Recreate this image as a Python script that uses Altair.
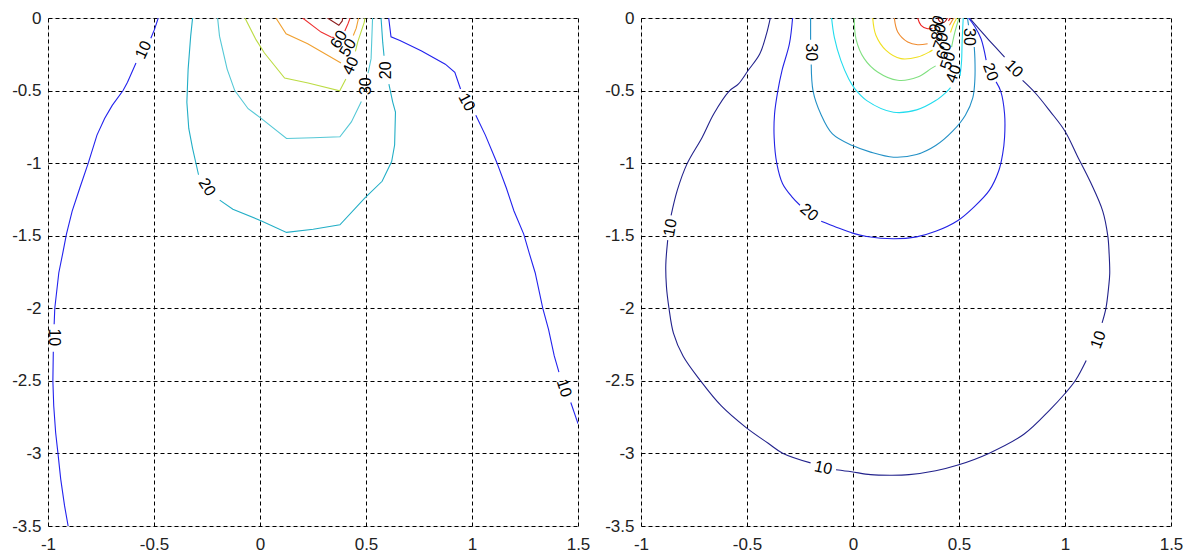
import altair as alt
import pandas as pd

# ---------------- LEFT PANEL contour segments (x, y) ----------------
L10 = [
    [(-0.48, 0), (-0.498, -0.080), (-0.515, -0.14)],
    [(-0.585, -0.31), (-0.625, -0.443), (-0.646, -0.5), (-0.697, -0.602), (-0.733, -0.693),
     (-0.769, -0.807), (-0.809, -0.995), (-0.850, -1.171), (-0.886, -1.330), (-0.913, -1.489),
     (-0.931, -1.625), (-0.949, -1.755), (-0.968, -2.0), (-0.971, -2.11)],
    [(-0.975, -2.30), (-0.977, -2.5), (-0.973, -2.672), (-0.964, -2.856), (-0.953, -3.0),
     (-0.940, -3.177), (-0.922, -3.360), (-0.905, -3.5)],
    [(0.607, 0), (0.618, -0.13), (0.66, -0.155), (0.76, -0.225), (0.874, -0.318),
     (0.919, -0.375), (0.946, -0.489)],
    [(1.018, -0.670), (1.063, -0.807), (1.117, -0.995), (1.162, -1.171), (1.198, -1.330),
     (1.244, -1.489), (1.271, -1.625), (1.298, -1.755), (1.334, -2.0), (1.361, -2.145),
     (1.388, -2.328), (1.41, -2.44)],
    [(1.466, -2.649), (1.5, -2.795)],
]
L20 = [
    [(0.571, 0), (0.579, -0.17), (0.585, -0.26)],
    [(0.608, -0.455), (0.626, -0.579), (0.639, -0.648), (0.635, -0.875), (0.621, -0.989),
     (0.576, -1.125), (0.495, -1.239), (0.377, -1.425), (0.251, -1.455), (0.125, -1.477),
     (0.007, -1.398), (-0.128, -1.318), (-0.19, -1.255)],
    [(-0.29, -1.08), (-0.318, -0.898), (-0.336, -0.761), (-0.345, -0.580), (-0.339, -0.352),
     (-0.327, -0.125), (-0.318, 0)],
]
L30 = [
    [(-0.200, 0), (-0.191, -0.125), (-0.155, -0.352), (-0.119, -0.5), (-0.056, -0.625),
     (0.007, -0.693), (0.125, -0.830), (0.251, -0.825), (0.377, -0.818), (0.431, -0.716),
     (0.478, -0.575)],
    [(0.510, -0.38), (0.524, -0.28), (0.531, 0)],
]
L40 = [
    [(-0.071, 0), (-0.019, -0.149), (0.021, -0.241), (0.116, -0.414), (0.227, -0.448),
     (0.376, -0.502), (0.405, -0.42)],
    [(0.45, -0.23), (0.461, -0.165), (0.492, -0.028), (0.495, 0)],
]
L50 = [
    [(0.075, 0), (0.123, -0.109), (0.225, -0.177), (0.382, -0.31)],
    [(0.44, -0.12), (0.454, -0.07), (0.465, 0)],
]
L60 = [
    [(0.201, 0), (0.288, -0.097), (0.335, -0.131), (0.35, -0.135)],
    [(0.40, -0.09), (0.415, -0.04), (0.425, 0)],
]
L70 = [
    [(0.318, 0), (0.372, -0.05), (0.388, -0.02), (0.39, 0)],
]
LEFT_LEVELS = [10, 20, 30, 40, 50, 60, 70]
LEFT_SEGS = [L10, L20, L30, L40, L50, L60, L70]
LEFT_COLORS = ["#2222ee", "#22aec6", "#55c8d6", "#bcdc44", "#f0a030", "#ee3030", "#8c1c1c"]

LEFT_LABELS = [
    ("10", -0.55, -0.22, 295), ("10", -0.97, -2.20, 90), ("10", 0.975, -0.58, 62),
    ("10", 1.434, -2.55, 72), ("20", 0.595, -0.36, 270), ("20", -0.25, -1.165, 58),
    ("30", 0.50, -0.47, 270), ("40", 0.428, -0.33, 295), ("50", 0.415, -0.205, 300),
    ("60", 0.372, -0.148, 300),
]

# ---------------- RIGHT PANEL contour segments (x, y) ----------------
R10 = [
    [(-0.39, 0), (-0.408, -0.11), (-0.44, -0.248), (-0.495, -0.362), (-0.54, -0.454),
     (-0.585, -0.505), (-0.657, -0.661), (-0.711, -0.821), (-0.783, -1.005), (-0.829, -1.188),
     (-0.858, -1.36)],
    [(-0.874, -1.53), (-0.883, -1.70), (-0.880, -1.85), (-0.868, -2.0), (-0.847, -2.171),
     (-0.801, -2.331), (-0.720, -2.498), (-0.621, -2.673), (-0.504, -2.822), (-0.400, -2.93),
     (-0.332, -2.998), (-0.20, -3.065)],
    [(-0.08, -3.112), (-0.007, -3.126), (0.083, -3.146), (0.18, -3.15), (0.264, -3.146),
     (0.390, -3.119), (0.495, -3.080), (0.643, -2.998), (0.806, -2.868), (0.931, -2.696),
     (1.0, -2.587), (1.049, -2.498), (1.10, -2.36)],
    [(1.175, -2.10), (1.193, -2.0), (1.206, -1.852), (1.211, -1.76), (1.208, -1.62),
     (1.202, -1.503), (1.178, -1.33), (1.12, -1.13), (1.058, -0.95), (1.0, -0.78),
     (0.931, -0.645), (0.859, -0.515), (0.80, -0.43)],
    [(0.715, -0.27), (0.64, -0.15), (0.585, -0.06), (0.55, 0)],
]
R20 = [
    [(-0.285, 0), (-0.30, -0.179), (-0.335, -0.362), (-0.355, -0.505), (-0.37, -0.661),
     (-0.372, -0.821), (-0.359, -1.005), (-0.332, -1.142), (-0.287, -1.234), (-0.25, -1.29)],
    [(-0.15, -1.40), (-0.079, -1.441), (-0.002, -1.482), (0.065, -1.505), (0.191, -1.521),
     (0.300, -1.508), (0.390, -1.47), (0.495, -1.395), (0.570, -1.303), (0.643, -1.188),
     (0.688, -1.051), (0.706, -0.936), (0.715, -0.821), (0.715, -0.661), (0.697, -0.505),
     (0.675, -0.44)],
    [(0.628, -0.29), (0.604, -0.143), (0.575, -0.06), (0.545, 0)],
]
R30 = [
    [(-0.200, 0), (-0.200, -0.15)],
    [(-0.197, -0.32), (-0.188, -0.505), (-0.152, -0.661), (-0.097, -0.798), (-0.002, -0.879),
     (0.083, -0.924), (0.191, -0.959), (0.300, -0.941), (0.390, -0.879), (0.470, -0.78),
     (0.530, -0.67), (0.565, -0.55), (0.575, -0.42), (0.575, -0.28), (0.572, -0.20)],
    [(0.545, -0.05), (0.54, 0)],
]
R40 = [
    [(-0.101, 0), (-0.088, -0.133), (-0.057, -0.294), (-0.02, -0.42), (0.01, -0.49),
     (0.065, -0.569), (0.191, -0.649), (0.300, -0.633), (0.390, -0.569), (0.444, -0.505),
     (0.46, -0.48)],
    [(0.505, -0.40), (0.512, -0.30), (0.515, -0.15), (0.52, 0)],
]
R50 = [
    [(0.006, 0), (0.014, -0.143), (0.053, -0.28), (0.116, -0.372), (0.211, -0.429),
     (0.305, -0.407), (0.368, -0.349), (0.39, -0.33)],
    [(0.465, -0.20), (0.48, -0.10), (0.50, 0)],
]
R60 = [
    [(0.093, 0), (0.108, -0.119), (0.156, -0.223), (0.226, -0.280), (0.305, -0.269),
     (0.360, -0.234), (0.375, -0.22)],
    [(0.46, -0.10), (0.475, -0.04), (0.49, 0)],
]
R70 = [
    [(0.195, 0), (0.211, -0.096), (0.258, -0.165), (0.305, -0.184), (0.352, -0.177)],
    [(0.455, -0.05), (0.475, 0)],
]
R80 = [
    [(0.305, 0), (0.321, -0.050), (0.352, -0.074), (0.375, -0.07)],
    [(0.45, -0.02), (0.46, 0)],
]
R90 = [
    [(0.40, 0), (0.41, -0.025), (0.43, -0.03), (0.445, 0)],
]
RIGHT_LEVELS = [10, 20, 30, 40, 50, 60, 70, 80, 90]
RIGHT_SEGS = [R10, R20, R30, R40, R50, R60, R70, R80, R90]
RIGHT_COLORS = ["#22228c", "#2222e6", "#2290c6", "#22dcee", "#80e080", "#f0e020",
                "#f08c30", "#ee2020", "#a01010"]

RIGHT_LABELS = [
    ("30", -0.197, -0.236, 90), ("20", -0.207, -1.34, 40), ("10", -0.862, -1.445, 280),
    ("10", -0.14, -3.10, 12), ("10", 1.157, -2.217, 290), ("10", 0.76, -0.35, 45),
    ("20", 0.648, -0.372, 70), ("30", 0.548, -0.13, 90), ("40", 0.475, -0.385, 290),
    ("50", 0.448, -0.295, 290), ("60", 0.43, -0.225, 290), ("70", 0.415, -0.16, 290),
    ("80", 0.405, -0.10, 290), ("90", 0.395, -0.045, 290),
]

X_TICKS = [-1, -0.5, 0, 0.5, 1, 1.5]
Y_TICKS = [0, -0.5, -1, -1.5, -2, -2.5, -3, -3.5]
FONT = "Liberation Sans"


def line_frame(levels, segs, colors):
    rows = []
    for lev, seglist, col in zip(levels, segs, colors):
        for si, seg in enumerate(seglist):
            for i, (x, y) in enumerate(seg):
                rows.append({"level": lev, "seg": f"{lev}-{si}", "i": i, "x": x, "y": y, "color": col})
    return pd.DataFrame(rows)


def label_frame(labels):
    return pd.DataFrame([{"text": t, "x": x, "y": y, "angle": a % 360} for t, x, y, a in labels])


def panel(levels, segs, colors, labels, interp):
    xs = alt.Scale(domain=[-1, 1.5], nice=False, zero=False)
    ys = alt.Scale(domain=[-3.5, 0], nice=False, zero=False)
    common = dict(labelExpr="datum.value + ''", title=None, grid=True,
                  ticks=False, tickSize=0, domain=False, labelFontSize=17, labelFont=FONT,
                  labelColor="#222", labelFlush=False, labelOverlap=False,
                  gridColor="#000", gridDash=[4, 3], gridWidth=1, gridOpacity=1)
    xax = alt.Axis(values=X_TICKS, labelPadding=10, **common)
    yax = alt.Axis(values=Y_TICKS, labelPadding=7, **common)
    lines = alt.Chart(line_frame(levels, segs, colors)).mark_line(
        strokeWidth=1.1, clip=True, interpolate=interp
    ).encode(
        x=alt.X("x:Q", scale=xs, axis=xax),
        y=alt.Y("y:Q", scale=ys, axis=yax),
        detail="seg:N",
        order="i:Q",
        color=alt.Color("color:N", scale=None),
    )
    texts = alt.Chart(label_frame(labels)).mark_text(
        font=FONT, fontSize=16, color="#000", baseline="middle", align="center"
    ).encode(
        x=alt.X("x:Q", scale=xs),
        y=alt.Y("y:Q", scale=ys),
        text="text:N",
        angle=alt.Angle("angle:Q", scale=None),
    )
    return alt.layer(lines, texts).properties(width=530, height=508)


left = panel(LEFT_LEVELS, LEFT_SEGS, LEFT_COLORS, LEFT_LABELS, "linear")
right = panel(RIGHT_LEVELS, RIGHT_SEGS, RIGHT_COLORS, RIGHT_LABELS, "catmull-rom")

chart = alt.hconcat(left, right, spacing=63, bounds="flush").properties(
    padding={"left": 3, "top": 0, "right": 0, "bottom": 0}
).configure_view(stroke="#333", strokeWidth=1).configure(background="white")

chart.save("out.html", embed_options={"renderer": "svg", "actions": False})
